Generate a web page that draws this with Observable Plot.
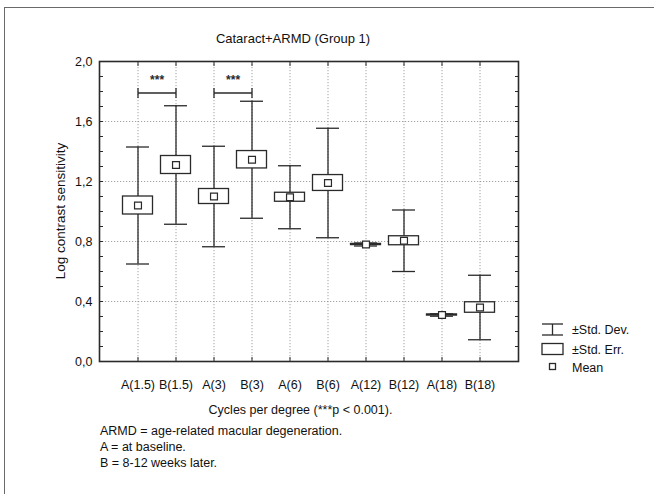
<!DOCTYPE html>
<html>
<head>
<meta charset="utf-8">
<script src="https://cdn.jsdelivr.net/npm/d3@7"></script>
<script src="https://cdn.jsdelivr.net/npm/@observablehq/plot@0.6"></script>
<style>
  html, body { margin: 0; padding: 0; background: #fff; }
  #wrap { position: relative; width: 654px; height: 494px; overflow: hidden; font-family: "Liberation Sans", Arial, sans-serif; color: #111; }
  #wrap svg.plot { position: absolute; left: 0; top: 0; }
  .abs { position: absolute; white-space: nowrap; font-size: 12px; }
  #border { position: absolute; left: 4px; top: 7px; width: 800px; height: 600px; border-top: 1.5px solid #6a6a6a; border-left: 1.5px solid #6a6a6a; }
</style>
</head>
<body>
<div id="wrap">
  <div id="border"></div>
</div>
<script>
// ---- data ----
const categories = ["A(1.5)", "B(1.5)", "A(3)", "B(3)", "A(6)", "B(6)", "A(12)", "B(12)", "A(18)", "B(18)"];
const means  = [1.04, 1.31, 1.10, 1.345, 1.095, 1.19, 0.78, 0.805, 0.31, 0.36];
const stdErr = [0.06, 0.06, 0.05, 0.058, 0.03, 0.053, 0.004, 0.03, 0.004, 0.035];
const stdDev = [0.39, 0.395, 0.335, 0.39, 0.21, 0.365, 0.01, 0.205, 0.008, 0.215];
const yTicks = [0, 0.4, 0.8, 1.2, 1.6, 2.0];
const yMinorTicks = [0.1, 0.2, 0.3, 0.5, 0.6, 0.7, 0.9, 1.0, 1.1, 1.3, 1.4, 1.5, 1.7, 1.8, 1.9];
const bracketFrom  = ["A(1.5)", "A(3)"];
const bracketTo    = ["B(1.5)", "B(3)"];
const bracketY     = [1.79, 1.79];
const bracketLabel = ["***", "***"];
const titleText = "Cataract+ARMD (Group 1)";
const xLabel = "Cycles per degree (***p < 0.001).";
const yLabel = "Log contrast sensitivity";
const notes = ["ARMD = age-related macular degeneration.", "A = at baseline.", "B = 8-12 weeks later."];
const legendLabels = ["\u00b1Std. Dev.", "\u00b1Std. Err.", "Mean"];

// ---- layout ----
const W = 654, H = 494;
const mL = 99, mR = 136, mT = 61, mB = H - 361;
const step = (W - mL - mR) / 11;
const ink = "#2a2a2a";

const rows = categories.map((c, i) => ({cat: c, mean: means[i], se: stdErr[i], sd: stdDev[i]}));
const bIdx = bracketFrom.map((_, i) => i);
const bEnds = bIdx.flatMap(i => [{x: bracketFrom[i], y: bracketY[i]}, {x: bracketTo[i], y: bracketY[i]}]);
const vTick = {draw(ctx, size) { const r = Math.sqrt(size / Math.PI); ctx.moveTo(0, -r); ctx.lineTo(0, r); }};
const grid = {stroke: "#8a8a8a", strokeOpacity: 1, strokeWidth: 0.8, strokeDasharray: "1.2,1.8"};

const chart = Plot.plot({
  width: W, height: H,
  marginLeft: mL, marginRight: mR, marginTop: mT, marginBottom: mB,
  style: {fontFamily: "'Liberation Sans', Arial, sans-serif", fontSize: "12px", color: "#111", background: "transparent"},
  x: {type: "band", domain: categories, paddingInner: 0.396, paddingOuter: 0.698, label: null},
  y: {domain: [0, 2], label: null},
  marks: [
    Plot.gridY(yTicks, grid),
    Plot.gridX(categories, grid),
    Plot.axisY(yTicks, {anchor: "left", tickSize: -4, tickPadding: 11, stroke: ink, tickFormat: d => d.toFixed(1).replace(".", ","), fontSize: 12.5, label: null}),
    Plot.axisY(yMinorTicks, {anchor: "left", tickSize: -4, stroke: ink, tickFormat: () => "", label: null}),
    Plot.axisY(yTicks.concat(yMinorTicks), {anchor: "right", tickSize: -4, stroke: ink, tickFormat: () => "", label: null}),
    Plot.axisX(categories, {anchor: "bottom", tickSize: -4, tickPadding: 23, stroke: ink, fontSize: 12.5, label: null}),
    Plot.axisX(categories, {anchor: "top", tickSize: -4, stroke: ink, tickFormat: () => "", label: null}),
    Plot.frame({stroke: ink, strokeWidth: 1.6}),
    // std dev whiskers
    Plot.ruleX(rows, {x: "cat", y1: d => d.mean - d.sd, y2: d => d.mean + d.sd, stroke: ink, strokeWidth: 1.3}),
    Plot.tickY(rows, {x: "cat", y: d => d.mean + d.sd, stroke: ink, strokeWidth: 1.3}),
    Plot.tickY(rows, {x: "cat", y: d => d.mean - d.sd, stroke: ink, strokeWidth: 1.3}),
    // std err boxes
    Plot.rectY(rows, {x: "cat", y1: d => d.mean - d.se, y2: d => d.mean + d.se, fill: "white", stroke: ink, strokeWidth: 1.3, insetLeft: -3.5, insetRight: -3.5}),
    // means
    Plot.dot(rows, {x: "cat", y: "mean", symbol: "square", r: 3.9, fill: "white", stroke: ink, strokeWidth: 1.2}),
    // significance brackets
    Plot.link(bIdx, {x1: i => bracketFrom[i], x2: i => bracketTo[i], y1: i => bracketY[i], y2: i => bracketY[i], stroke: ink, strokeWidth: 1.3}),
    Plot.dot(bEnds, {x: "x", y: "y", symbol: vTick, r: 5, stroke: ink, strokeWidth: 1.3, fill: "none"}),
    Plot.text(bIdx, {x: i => bracketFrom[i], y: i => bracketY[i], text: i => bracketLabel[i], dx: step / 2, dy: -13, fontSize: 12, fontWeight: "bold", fill: ink})
  ]
});
chart.classList.add("plot");
const wrap = document.getElementById("wrap");
wrap.appendChild(chart);

function addText(txt, left, top, extra) {
  const d = document.createElement("div");
  d.className = "abs";
  d.textContent = txt;
  d.style.left = left + "px";
  d.style.top = top + "px";
  if (extra) Object.assign(d.style, extra);
  wrap.appendChild(d);
  return d;
}
// title
addText(titleText, 0, 31, {width: "586px", textAlign: "center", fontSize: "13px"});
// x label
addText(xLabel, 0, 403, {width: "601px", textAlign: "center", fontSize: "12.5px"});
// y label (rotated)
addText(yLabel, 60, 211, {transform: "translate(-50%, -50%) rotate(-90deg)", fontSize: "13.5px"});
// notes
notes.forEach((n, i) => addText(n, 100, 424 + i * 16, {fontSize: "12.5px"}));

// legend
const ns = "http://www.w3.org/2000/svg";
const lg = document.createElementNS(ns, "svg");
lg.setAttribute("width", 120); lg.setAttribute("height", 60);
lg.style.position = "absolute"; lg.style.left = "534px"; lg.style.top = "318px";
lg.innerHTML = `
  <g stroke="${ink}" stroke-width="1.3" fill="white">
    <line x1="8" x2="29" y1="6" y2="6"/><line x1="8" x2="29" y1="17" y2="17"/><line x1="18.5" x2="18.5" y1="6" y2="17"/>
    <rect x="8" y="25.5" width="21" height="11"/>
    <rect x="15.5" y="45.5" width="6" height="6"/>
  </g>
  <g font-family="'Liberation Sans', Arial, sans-serif" font-size="12.5" fill="#111">
    <text x="38" y="15.5">${legendLabels[0]}</text>
    <text x="38" y="35.5">${legendLabels[1]}</text>
    <text x="38" y="53.5">${legendLabels[2]}</text>
  </g>`;
wrap.appendChild(lg);
</script>
</body>
</html>
